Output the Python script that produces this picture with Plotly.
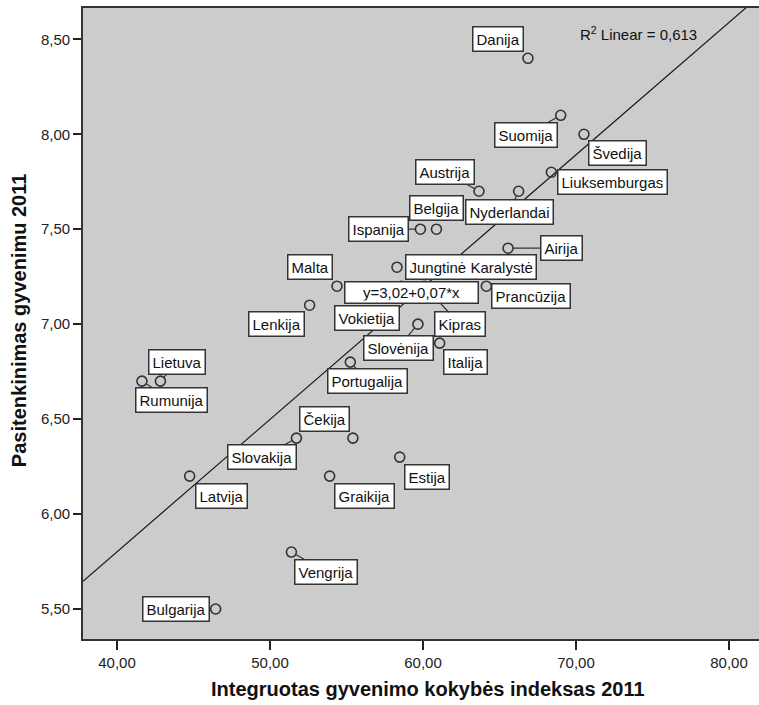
import numpy as np
import plotly.graph_objects as go

# ---------------- data ----------------
countries = [
    "Danija", "Suomija", "Švedija", "Liuksemburgas", "Nyderlandai", "Austrija",
    "Belgija", "Ispanija", "Airija", "Jungtinė Karalystė", "Prancūzija", "Malta",
    "Vokietija", "Kipras", "Lenkija", "Slovėnija", "Italija", "Portugalija",
    "Lietuva", "Rumunija", "Čekija", "Slovakija", "Estija", "Latvija",
    "Graikija", "Vengrija", "Bulgarija",
]
quality_index = [
    66.86, 69.00, 70.52, 68.39, 66.25, 63.66,
    60.88, 59.83, 65.56, 58.30, 64.14, 54.38,
    58.60, 60.10, 52.59, 59.67, 61.09, 55.25,
    42.84, 41.63, 55.42, 51.73, 58.48, 44.75,
    53.90, 51.40, 46.45,
]
life_satisfaction = [
    8.4, 8.1, 8.0, 7.8, 7.7, 7.7,
    7.5, 7.5, 7.4, 7.3, 7.2, 7.2,
    7.2, 7.2, 7.1, 7.0, 6.9, 6.8,
    6.7, 6.7, 6.4, 6.4, 6.3, 6.2,
    6.2, 5.8, 5.5,
]
x_ticks = [40, 50, 60, 70, 80]
y_ticks = [5.5, 6.0, 6.5, 7.0, 7.5, 8.0, 8.5]

X_TITLE = "Integruotas gyvenimo kokybės indeksas 2011"
Y_TITLE = "Pasitenkinimas gyvenimu 2011"
EQ_TEXT = "y=3,02+0,07*x"
R2_TEXT = "R<sup>2</sup> Linear = 0,613"

# ---------------- label placement (pixel offsets, leader line flag) ----------------
label_offsets = {
    "Danija": (-30, -19, False),
    "Suomija": (-34.5, 19.5, True),
    "Švedija": (34, 19, False),
    "Liuksemburgas": (61.6, 10, False),
    "Nyderlandai": (-9.5, 21, True),
    "Austrija": (-33.5, -19, True),
    "Belgija": (0, -21, False),
    "Ispanija": (-42, 0, True),
    "Airija": (53.7, 0, True),
    "Jungtinė Karalystė": (73.9, 0, False),
    "Prancūzija": (45, 10, False),
    "Malta": (-26.8, -19, False),
    "Vokietija": (-34.4, 31.8, False),
    "Kipras": (35.6, 38.3, True),
    "Lenkija": (-33, 19, False),
    "Slovėnija": (-19.8, 23.5, True),
    "Italija": (26.3, 18.9, False),
    "Portugalija": (17.3, 19, True),
    "Lietuva": (17, -18.8, True),
    "Rumunija": (29.9, 18.8, True),
    "Čekija": (-28.8, -18.9, False),
    "Slovakija": (-34.2, 19.1, True),
    "Estija": (27.2, 19.8, False),
    "Latvija": (32.2, 19.8, False),
    "Graikija": (35, 19.8, False),
    "Vengrija": (34.2, 19.5, True),
    "Bulgarija": (-39.2, 0, False),
}

FONT = "Arial, Liberation Sans, sans-serif"
X_RANGE = [37.78, 81.96]
Y_RANGE = [5.342, 8.665]

# ---------------- regression ----------------
xs = np.array(quality_index)
ys = np.array(life_satisfaction)
slope, intercept = np.polyfit(xs, ys, 1)
line_x = np.array(X_RANGE)
line_y = intercept + slope * line_x

fig = go.Figure()
fig.add_trace(go.Scatter(
    x=line_x, y=line_y, mode="lines",
    line=dict(color="#1a1a1a", width=1.2),
    hoverinfo="skip", showlegend=False,
))
fig.add_trace(go.Scatter(
    x=quality_index, y=life_satisfaction, mode="markers",
    marker=dict(symbol="circle-open", size=10, color="#333333",
                line=dict(width=1.6, color="#333333")),
    text=countries, showlegend=False,
))

annotations = []
for name, xv, yv in zip(countries, quality_index, life_satisfaction):
    dx, dy, leader = label_offsets[name]
    base = dict(
        x=xv, y=yv, xref="x", yref="y", text=name,
        font=dict(family=FONT, size=15, color="#111111"),
        bgcolor="white", bordercolor="#333333", borderwidth=1.5, borderpad=3,
    )
    if leader:
        base.update(showarrow=True, ax=dx, ay=dy, arrowhead=0,
                    arrowwidth=1.2, arrowcolor="#333333", standoff=5)
    else:
        base.update(showarrow=False, xshift=dx, yshift=-dy)
    annotations.append(base)

# equation box (drawn on top)
annotations.append(dict(
    x=59.22, y=7.167, xref="x", yref="y", text=EQ_TEXT, showarrow=False,
    font=dict(family=FONT, size=15, color="#111111"),
    bgcolor="white", bordercolor="#333333", borderwidth=1.5, borderpad=2,
    width=128, height=16,
))
# R2 text
annotations.append(dict(
    x=74.07, y=8.533, xref="x", yref="y", text=R2_TEXT, showarrow=False,
    font=dict(family=FONT, size=15, color="#111111"),
))
# axis titles
annotations.append(dict(
    x=0.511, y=-0.0792, xref="paper", yref="paper", text=X_TITLE, showarrow=False,
    font=dict(family=FONT, size=20, color="#111111", weight="bold"),
    xanchor="center", yanchor="middle",
))
annotations.append(dict(
    x=-0.0935, y=0.505, xref="paper", yref="paper", text=Y_TITLE, showarrow=False,
    font=dict(family=FONT, size=20, color="#111111", weight="bold"),
    textangle=-90, xanchor="center", yanchor="middle",
))

axis_common = dict(
    showgrid=False, zeroline=False, showline=True, linecolor="#333333",
    linewidth=1.8, mirror=True, ticks="outside", tickcolor="#222222",
    tickwidth=1.5, tickformat=".2f", automargin=False,
    tickfont=dict(family=FONT, size=15, color="#222222"),
)

fig.update_layout(
    width=759, height=705,
    margin=dict(l=83, r=0, t=8, b=66, autoexpand=False),
    paper_bgcolor="white", plot_bgcolor="#CCCCCC",
    separators=",.",
    xaxis=dict(range=X_RANGE, tickvals=x_ticks, ticklen=9, **axis_common),
    yaxis=dict(range=Y_RANGE, tickvals=y_ticks, ticklen=8, **axis_common),
    annotations=annotations,
    showlegend=False,
)

fig.write_html(
    "out.html",
    config={"displayModeBar": False},
    post_script="document.body.style.margin='0';document.body.style.overflow='hidden';",
)
